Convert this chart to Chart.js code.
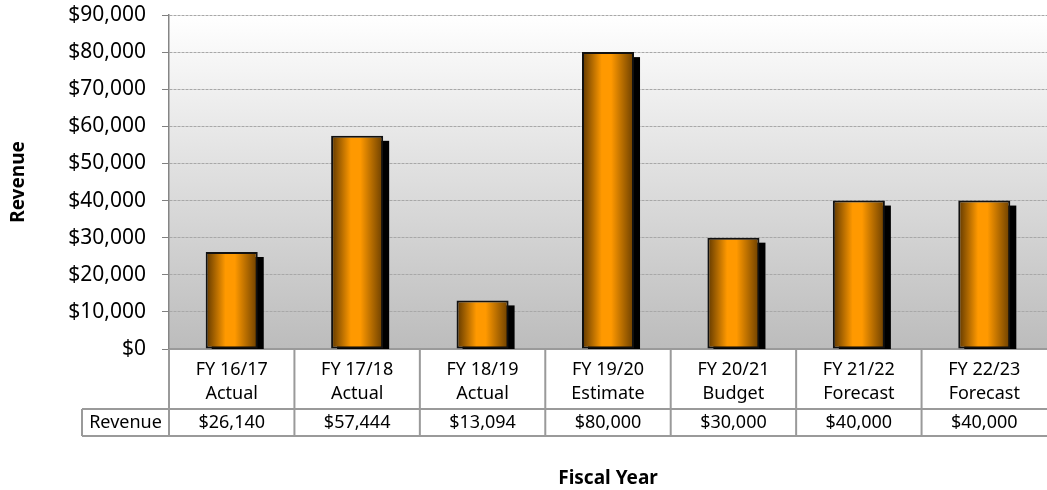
<!DOCTYPE html>
<html>
<head>
<meta charset="utf-8">
<script src="https://cdn.jsdelivr.net/npm/chart.js@4.4.1/dist/chart.umd.min.js"></script>
<style>
  html, body { margin: 0; padding: 0; background: #fff; }
  #wrap { width: 1047px; height: 490px; }
</style>
</head>
<body>
<div id="wrap"><canvas id="revenueChart" width="1047" height="490"></canvas></div>
<script>
// Revenue by fiscal year
const years = ['FY 16/17', 'FY 17/18', 'FY 18/19', 'FY 19/20', 'FY 20/21', 'FY 21/22', 'FY 22/23'];
const stages = ['Actual', 'Actual', 'Actual', 'Estimate', 'Budget', 'Forecast', 'Forecast'];
const revenue = [26140, 57444, 13094, 80000, 30000, 40000, 40000];
const seriesName = 'Revenue';
const yMax = 90000;
const yStep = 10000;

const FONT = "'Noto Sans', sans-serif";
const BAR_PCT = 0.415;

const money = (v) => '$' + Number(v).toLocaleString('en-US');

// Horizontal "cylinder" shading for each bar
function barFill(context) {
  const chart = context.chart;
  const xs = chart.scales && chart.scales.x;
  if (!xs || context.dataIndex == null) return '#ff9900';
  const cx = xs.getPixelForValue(context.dataIndex);
  const half = (xs.width / years.length) * BAR_PCT / 2;
  if (!isFinite(cx) || !isFinite(half) || half <= 0) return '#ff9900';
  const g = chart.ctx.createLinearGradient(cx - half, 0, cx + half, 0);
  g.addColorStop(0, '#5e3700');
  g.addColorStop(0.38, '#ff9900');
  g.addColorStop(0.56, '#ff9900');
  g.addColorStop(1, '#6a3e00');
  return g;
}

// Grey fade behind the plot
const plotBackground = {
  id: 'plotBackground',
  beforeDraw(chart) {
    const { ctx, chartArea: a } = chart;
    const g = ctx.createLinearGradient(0, a.top, 0, a.bottom);
    g.addColorStop(0, '#ffffff');
    g.addColorStop(1, '#bcbcbc');
    ctx.save();
    ctx.fillStyle = g;
    ctx.fillRect(a.left, a.top, a.width, a.height);
    ctx.restore();
  }
};

// Solid black drop shadow behind the bars
const barShadow = {
  id: 'barShadow',
  beforeDatasetsDraw(chart) {
    const { ctx, chartArea: a } = chart;
    const meta = chart.getDatasetMeta(0);
    ctx.save();
    ctx.beginPath();
    ctx.rect(a.left, a.top, a.width, a.height);
    ctx.clip();
    ctx.fillStyle = '#000';
    meta.data.forEach((bar) => {
      const { x, y, base, width } = bar.getProps(['x', 'y', 'base', 'width'], true);
      ctx.fillRect(x - width / 2 + 6, y + 5, width, base - y);
    });
    ctx.restore();
  }
};

// Data table under the category axis
const dataTable = {
  id: 'dataTable',
  afterDraw(chart) {
    const { ctx, chartArea: a } = chart;
    const xs = chart.scales.x;
    const colW = xs.width / years.length;
    const rowTop = a.bottom + 60;
    const rowBottom = a.bottom + 87;
    const keyLeft = 82;

    ctx.save();
    ctx.strokeStyle = '#9a9a9a';
    ctx.lineWidth = 2;
    ctx.beginPath();
    for (let i = 0; i < years.length; i++) {
      const x = xs.left + i * colW;
      ctx.moveTo(x, a.bottom);
      ctx.lineTo(x, rowBottom);
    }
    ctx.moveTo(keyLeft, rowTop);
    ctx.lineTo(keyLeft, rowBottom);
    ctx.moveTo(keyLeft, rowTop);
    ctx.lineTo(xs.right, rowTop);
    ctx.moveTo(keyLeft, rowBottom);
    ctx.lineTo(xs.right, rowBottom);
    ctx.stroke();

    ctx.fillStyle = '#000';
    ctx.font = `18px ${FONT}`;
    ctx.textAlign = 'center';
    ctx.textBaseline = 'middle';
    const midY = (rowTop + rowBottom) / 2;
    ctx.fillText(seriesName, (keyLeft + xs.left) / 2, midY);
    revenue.forEach((v, i) => {
      ctx.fillText(money(v), xs.getPixelForValue(i), midY);
    });
    ctx.restore();
  }
};

new Chart(document.getElementById('revenueChart'), {
  type: 'bar',
  data: {
    labels: years,
    datasets: [{
      label: seriesName,
      data: revenue,
      backgroundColor: barFill,
      borderColor: '#111',
      borderWidth: 2,
      borderSkipped: false,
      barPercentage: BAR_PCT,
      categoryPercentage: 1
    }]
  },
  options: {
    responsive: false,
    animation: false,
    layout: { padding: { top: 15, right: 0, bottom: 0, left: 0 } },
    plugins: {
      legend: { display: false },
      tooltip: { enabled: false }
    },
    scales: {
      x: {
        afterFit: (scale) => { scale.height = 141; },
        grid: { display: false },
        border: { color: '#9a9a9a', width: 2 },
        ticks: {
          padding: 1,
          color: '#000',
          font: { family: FONT, size: 18, lineHeight: 1.333 },
          callback: (val, i) => [years[i], stages[i]]
        },
        title: {
          display: true,
          text: 'Fiscal Year',
          color: '#000',
          font: { family: FONT, size: 19, weight: 'bold' },
          padding: { top: 0, bottom: 0 }
        }
      },
      y: {
        min: 0,
        max: yMax,
        afterFit: (scale) => {
          scale.width = 169;
          scale.paddingTop = 0;
          scale.paddingBottom = 0;
        },
        grid: {
          color: '#a8a8a8',
          lineWidth: 1,
          tickLength: 7,
          tickColor: '#808080',
          tickBorderDash: []
        },
        border: { color: '#858585', width: 1.5, dash: [3, 1] },
        ticks: {
          stepSize: yStep,
          padding: 16,
          color: '#000',
          font: { family: FONT, size: 21 },
          callback: (v) => money(v)
        },
        title: {
          display: true,
          text: 'Revenue',
          color: '#000',
          font: { family: FONT, size: 19, weight: 'bold' },
          padding: { top: 7, bottom: 0 }
        }
      }
    }
  },
  plugins: [plotBackground, barShadow, dataTable]
});
</script>
</body>
</html>
